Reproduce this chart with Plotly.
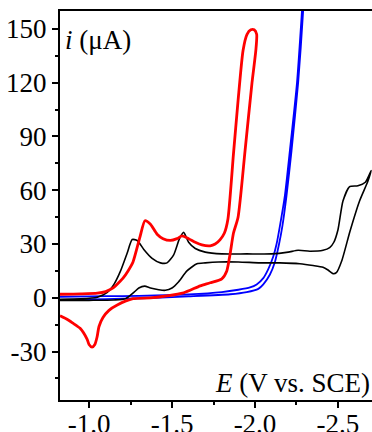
import plotly.graph_objects as go

# =============================================================================
# Cyclic voltammograms (E in V vs. SCE, i in uA)
# =============================================================================
black_E = [-0.825, -0.95, -1.05, -1.11, -1.15, -1.19, -1.23, -1.26, -1.29, -1.33,
           -1.38, -1.43, -1.47, -1.51, -1.545, -1.57, -1.60, -1.64, -1.70, -1.80,
           -1.95, -2.10, -2.20, -2.26, -2.33, -2.41, -2.45, -2.475, -2.50, -2.53,
           -2.57, -2.62, -2.665, -2.70,
           -2.68, -2.63, -2.572, -2.524, -2.49, -2.47, -2.44, -2.41, -2.35, -2.27,
           -2.15, -2.03, -1.90, -1.78, -1.70, -1.65, -1.59, -1.54, -1.50, -1.46,
           -1.42, -1.37, -1.335, -1.30, -1.27, -1.22, -1.15, -1.00, -0.825]
black_i = [-0.8, -0.6, 0.3, 3, 7.5, 15, 25, 32.5, 32, 27,
           22, 19.5, 19.5, 24, 33, 36.5, 31, 27.5, 25.5, 24.5,
           24.5, 24.5, 25.5, 26.5, 26, 26.5, 28, 31, 38, 54,
           62, 62.5, 64.5, 71,
           65, 54, 37, 21, 14, 13.5, 15.5, 17, 18, 19,
           19.5, 19.5, 20, 20, 19.5, 19, 15, 9, 5.5, 4.2,
           4.5, 5.5, 6.5, 5.5, 3, -0.5, -1.2, -1.4, -1.5]

red_E = [-0.825, -0.95, -1.05, -1.10, -1.145, -1.19, -1.205, -1.235, -1.265, -1.307,
         -1.337, -1.37, -1.41, -1.446, -1.49, -1.53, -1.56, -1.60, -1.64, -1.68,
         -1.73, -1.76, -1.79, -1.815, -1.837, -1.87, -1.898, -1.928, -1.952, -1.975,
         -1.995, -2.01,
         -2.005, -1.982, -1.94, -1.898, -1.87, -1.85, -1.83, -1.80, -1.73, -1.67,
         -1.57, -1.47, -1.37, -1.265, -1.17, -1.12, -1.084, -1.06, -1.048, -1.035,
         -1.018, -1.00, -0.988, -0.946, -0.90, -0.867, -0.825]
red_i = [2, 2.2, 2.6, 3.5, 5.5, 9.5, 11, 15, 20, 34,
         43, 41, 35.5, 33, 32, 33, 34.5, 33, 31, 29.5,
         29, 30, 32.5, 36, 44, 80, 110, 138, 147, 149.5,
         149.5, 147,
         138, 120, 82, 45, 36, 24.5, 15, 10.6, 8.4, 6.7,
         2.8, 1.1, 0, -0.5, -4, -7, -11, -16, -22, -26,
         -27.5, -26, -23, -17, -14, -12, -10]

blue_E = [-0.825, -1.0, -1.2, -1.4, -1.6, -1.8, -1.9, -1.97, -2.01, -2.05,
          -2.08, -2.11, -2.13, -2.15, -2.18, -2.21, -2.253, -2.283, -2.30,
          -2.29, -2.26, -2.22, -2.19, -2.165, -2.145, -2.12, -2.09, -2.05, -2.02,
          -1.95, -1.85, -1.6, -1.4, -1.2, -1.0, -0.825]
blue_i = [0.6, 0.8, 1.0, 1.3, 1.9, 3.2, 4.5, 5.8, 7.5, 11,
          16, 23, 30, 40, 57, 82, 120, 160, 185,
          160, 120, 82, 57, 40, 30, 20, 13, 7.5, 5,
          3.2, 2, 0.8, 0, -0.5, -0.9, -1.2]

x_ticks = [-1.0, -1.5, -2.0, -2.5]
x_labels = ["-1.0", "-1.5", "-2.0", "-2.5"]
y_ticks = [-30, 0, 30, 60, 90, 120, 150]
y_labels = ["-30", "0", "30", "60", "90", "120", "150"]

FONT = "Liberation Serif"

fig = go.Figure()
fig.add_trace(go.Scatter(x=blue_E, y=blue_i, mode="lines",
                         line=dict(color="#0000ff", width=1.8, shape="spline", smoothing=0.6)))
fig.add_trace(go.Scatter(x=black_E, y=black_i, mode="lines",
                         line=dict(color="black", width=1.6, shape="spline", smoothing=0.6)))
fig.add_trace(go.Scatter(x=red_E, y=red_i, mode="lines",
                         line=dict(color="#ff0000", width=2.8, shape="spline", smoothing=0.6)))

fig.update_layout(
    width=372, height=432,
    margin=dict(l=60, r=0, t=11, b=32),
    paper_bgcolor="white", plot_bgcolor="white",
    showlegend=False,
    font=dict(family=FONT, size=27, color="black"),
)

fig.update_xaxes(
    range=[-0.825, -2.705], automargin=False,
    tickmode="array", tickvals=x_ticks, ticktext=x_labels,
    ticks="outside", ticklen=6, tickwidth=2, tickcolor="black",
    ticklabelstandoff=-7,
    tickfont=dict(family=FONT, size=27),
    minor=dict(tickmode="array", tickvals=[-1.25, -1.75, -2.25], ticks="outside",
               ticklen=3, tickwidth=2, tickcolor="black"),
    showline=True, linewidth=2, linecolor="black", mirror=True,
    showgrid=False, zeroline=False,
)
fig.update_yaxes(
    range=[-57, 160], automargin=False,
    tickmode="array", tickvals=y_ticks, ticktext=y_labels,
    ticks="outside", ticklen=6, tickwidth=2, tickcolor="black",
    tickfont=dict(family=FONT, size=27),
    minor=dict(tickmode="array", tickvals=[-45, -15, 15, 45, 75, 105, 135], ticks="outside",
               ticklen=3, tickwidth=2, tickcolor="black"),
    showline=True, linewidth=2, linecolor="black", mirror=False,
    showgrid=False, zeroline=False,
)

fig.add_annotation(text="<i>i</i> (μA)", xref="paper", yref="paper",
                   x=0, y=0.925, xanchor="left", yanchor="middle", xshift=3,
                   showarrow=False, font=dict(family=FONT, size=27))
fig.add_annotation(text="<i>E</i> (V vs. SCE)", xref="paper", yref="paper",
                   x=1, y=0.044, xanchor="right", yanchor="middle",
                   showarrow=False, font=dict(family=FONT, size=27))

# drop the page's default body margin so the figure sits at the window corner
fig.write_html("out.html", config={"displayModeBar": False},
               post_script="document.body.style.margin='0';")
